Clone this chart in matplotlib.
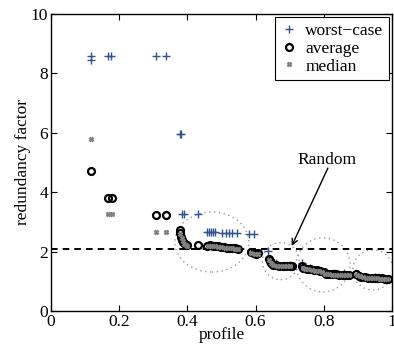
import matplotlib
matplotlib.use("Agg")
import matplotlib.pyplot as plt
from matplotlib.patches import Ellipse

plt.rcParams["font.family"] = ["Liberation Serif", "DejaVu Serif"]

# worst-case (+)
worst_x = [0.117, 0.117, 0.168, 0.176, 0.308, 0.339, 0.378, 0.381,
           0.385, 0.390, 0.432, 0.457, 0.463, 0.469, 0.475, 0.481,
           0.502, 0.512, 0.522, 0.532, 0.545, 0.580, 0.596, 0.637,
           0.642, 0.660, 0.700, 0.735, 0.760, 0.800, 0.830, 0.860,
           0.900, 0.950]
worst_y = [8.45, 8.60, 8.60, 8.60, 8.60, 8.60, 5.95, 5.95,
           3.26, 3.26, 3.26, 2.65, 2.65, 2.65, 2.65, 2.65,
           2.64, 2.64, 2.64, 2.64, 2.64, 2.58, 2.58, 2.03,
           1.74, 1.60, 1.55, 1.60, 1.45, 1.30, 1.28, 1.27,
           1.25, 1.15]

# average (o)
avg_x = [0.117, 0.168, 0.178, 0.308, 0.339, 0.378, 0.380, 0.382,
         0.385, 0.388, 0.392, 0.398, 0.432, 0.458, 0.466, 0.474,
         0.482, 0.490, 0.498, 0.508, 0.516, 0.524, 0.532, 0.540,
         0.548, 0.586, 0.594, 0.602, 0.608, 0.638, 0.642, 0.646,
         0.650, 0.660, 0.670, 0.680, 0.690, 0.700, 0.708, 0.735,
         0.740, 0.750, 0.760, 0.770, 0.780, 0.790, 0.800, 0.806,
         0.815, 0.825, 0.835, 0.845, 0.855, 0.865, 0.875, 0.895,
         0.902, 0.910, 0.920, 0.930, 0.940, 0.950, 0.960, 0.970,
         0.980, 0.988]
avg_y = [4.70, 3.81, 3.81, 3.23, 3.24, 2.74, 2.62, 2.50,
         2.40, 2.32, 2.25, 2.22, 2.23, 2.20, 2.21, 2.20,
         2.19, 2.18, 2.17, 2.14, 2.13, 2.12, 2.12, 2.11,
         2.10, 1.98, 1.95, 1.92, 1.94, 1.76, 1.68, 1.60,
         1.55, 1.54, 1.53, 1.52, 1.52, 1.51, 1.50, 1.50,
         1.44, 1.42, 1.40, 1.38, 1.37, 1.35, 1.30, 1.26,
         1.24, 1.23, 1.23, 1.22, 1.22, 1.21, 1.21, 1.24,
         1.18, 1.15, 1.13, 1.12, 1.11, 1.11, 1.10, 1.10,
         1.09, 1.09]

# median (x)
med_x = [0.117, 0.168, 0.178, 0.308, 0.339, 0.380, 0.383, 0.386,
         0.390, 0.395, 0.400, 0.460, 0.470, 0.480, 0.490, 0.500,
         0.510, 0.520, 0.530, 0.540, 0.548, 0.588, 0.598, 0.606,
         0.640, 0.645, 0.652, 0.662, 0.672, 0.682, 0.692, 0.702,
         0.738, 0.745, 0.755, 0.765, 0.775, 0.785, 0.795, 0.805,
         0.815, 0.825, 0.835, 0.845, 0.855, 0.865, 0.875, 0.898,
         0.906, 0.915, 0.925, 0.935, 0.945, 0.955, 0.965, 0.975,
         0.985]
med_y = [5.78, 3.27, 3.27, 2.65, 2.65, 2.58, 2.45, 2.35,
         2.27, 2.22, 2.19, 2.19, 2.19, 2.18, 2.17, 2.16,
         2.13, 2.12, 2.11, 2.10, 2.09, 1.96, 1.93, 1.93,
         1.72, 1.62, 1.54, 1.53, 1.52, 1.51, 1.51, 1.50,
         1.46, 1.42, 1.40, 1.38, 1.36, 1.35, 1.32, 1.26,
         1.23, 1.22, 1.22, 1.21, 1.21, 1.20, 1.20, 1.22,
         1.17, 1.14, 1.12, 1.11, 1.10, 1.10, 1.09, 1.09,
         1.08]

random_level = 2.08

# dotted circles: centre x, centre y, width, height
circ_cx = [0.472, 0.674, 0.798, 0.944]
circ_cy = [2.32, 1.68, 1.55, 1.38]
circ_w = [0.217, 0.108, 0.158, 0.118]
circ_h = [2.02, 1.25, 1.82, 1.35]

FS = 12.5

fig = plt.figure(figsize=(3.94, 3.49), dpi=100)
ax = fig.add_axes([0.129, 0.109, 0.866, 0.851])

for cx, cy, w, h in zip(circ_cx, circ_cy, circ_w, circ_h):
    ax.add_patch(Ellipse((cx, cy), w, h, fill=False, ec="#999999",
                         lw=1.0, ls=(0, (1, 2.5)), zorder=1))

ax.axhline(random_level, color="black", ls=(0, (3.4, 2.6)), lw=1.4, zorder=2)

ax.plot(worst_x, worst_y, "+", color="#34528c", ms=5.5, mew=1.0,
        label="worst\u2212case", zorder=3)
ax.plot(avg_x, avg_y, "o", mfc="none", mec="black", ms=5, mew=1.6,
        label="average", zorder=4)
ax.plot(med_x, med_y, "x", color="#808080", ms=3.5, mew=1.8,
        label="median", zorder=5)

ax.annotate("", xy=(0.706, 2.19), xytext=(0.812, 4.81),
            arrowprops=dict(arrowstyle="->", color="black", lw=1.0,
                            shrinkA=0, shrinkB=0))
ax.text(0.81, 5.08, "Random", ha="center", va="center", fontsize=FS)

ax.set_xlim(0, 1)
ax.set_ylim(0, 10)
ax.set_xticks([0, 0.2, 0.4, 0.6, 0.8, 1])
ax.set_xticklabels(["0", "0.2", "0.4", "0.6", "0.8", "1"])
ax.set_yticks([0, 2, 4, 6, 8, 10])
ax.tick_params(direction="in", top=True, right=True, length=4,
               labelsize=FS, pad=2)
for s in ax.spines.values():
    s.set_linewidth(1.0)
ax.set_xlabel("profile", fontsize=FS, labelpad=-2)
ax.set_ylabel("redundancy factor", fontsize=FS, labelpad=0)

leg = ax.legend(loc="upper right", fontsize=FS, fancybox=False,
                framealpha=1, edgecolor="black", borderaxespad=0.2,
                handlelength=1.0, handletextpad=0.45, labelspacing=0.1,
                borderpad=0.3)
leg.get_frame().set_linewidth(0.8)

fig.savefig("out.png", dpi=100)
